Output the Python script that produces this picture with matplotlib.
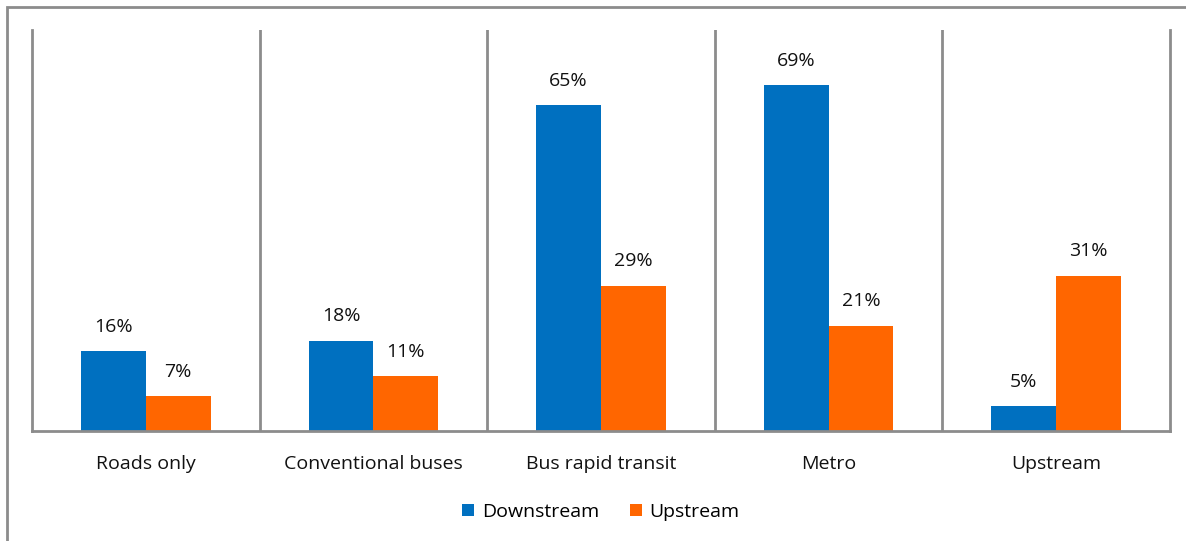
import matplotlib.pyplot as plt
import numpy as np
from matplotlib.patches import Rectangle

categories = ["Roads only", "Conventional buses", "Bus rapid transit", "Metro", "Upstream"]
downstream = [16, 18, 65, 69, 5]
upstream = [7, 11, 29, 21, 31]
series_names = ["Downstream", "Upstream"]

blue = '#0070C0'
orange = '#FF6600'
grey = '#8c8c8c'

plt.rcParams['font.family'] = ['Open Sans', 'DejaVu Sans']

fig = plt.figure(figsize=(11.86, 5.41), dpi=100)
ax = fig.add_axes([32 / 1186, 1 - 431 / 541, (1170 - 32) / 1186, (431 - 30) / 541])

# outer chart border (only top/left are inside the crop)
fig.patches.append(Rectangle((7 / 1186, -0.1), 1.2, 1 - 7 / 541 + 0.1,
                             transform=fig.transFigure, fill=False,
                             edgecolor=grey, linewidth=2))

x = np.arange(len(categories))
w = 0.285
b1 = ax.bar(x - w / 2, downstream, w, color=blue, label=series_names[0])
b2 = ax.bar(x + w / 2, upstream, w, color=orange, label=series_names[1])

for bars, vals in ((b1, downstream), (b2, upstream)):
    for r, v in zip(bars, vals):
        ax.annotate("%d%%" % v, (r.get_x() + r.get_width() / 2, v),
                    xytext=(0, 11), textcoords='offset points',
                    ha='center', va='bottom', fontsize=14, color='#111111')

ax.set_xlim(-0.5, len(categories) - 0.5)
ax.set_ylim(0, 80)

# category separators
for s in np.arange(0.5, len(categories) - 0.5):
    ax.axvline(s, color=grey, linewidth=2)

ax.spines['top'].set_visible(False)
for side in ('left', 'right', 'bottom'):
    ax.spines[side].set_color(grey)
    ax.spines[side].set_linewidth(2)

ax.set_yticks([])
ax.set_xticks(x)
ax.set_xticklabels(categories, fontsize=14, color='#111111')
ax.tick_params(axis='x', length=0, pad=17)

ax.legend(loc='upper center', bbox_to_anchor=(0.5, -0.135), ncol=2, frameon=False,
          fontsize=14, handlelength=0.6, handleheight=0.6, handletextpad=0.4,
          columnspacing=1.6)

fig.savefig("out.png", dpi=100, facecolor='white')
